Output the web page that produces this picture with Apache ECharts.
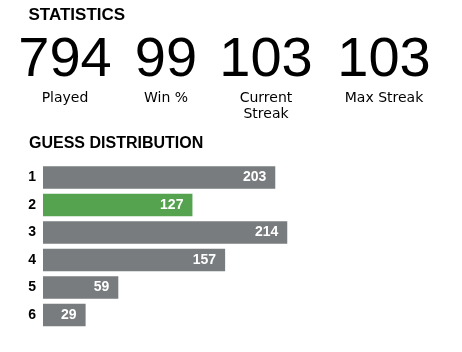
<!DOCTYPE html>
<html><head><meta charset="utf-8">
<script src="https://cdn.jsdelivr.net/npm/echarts@6/dist/echarts.min.js"></script>
<style>html,body{margin:0;padding:0;background:#fff}#c{width:462px;height:352px}</style>
</head><body><div id="c"></div>
<script>
const statValues = ['794', '99', '103', '103'];
const statLabels = ['Played', 'Win %', 'Current\nStreak', 'Max Streak'];
const guesses = ['1', '2', '3', '4', '5', '6'];
const counts = [203, 127, 214, 157, 59, 29];
const highlightIndex = 1;

const GRAY = '#787c7e', GREEN = '#55a34f', INK = '#000';
const FONT = '"Liberation Sans", Arial, sans-serif';
const LFONT = '"DejaVu Sans", sans-serif';
const statX = [65, 166, 266, 384];
const PAD = 11;

const graphics = [
  {type: 'text', x: 28.5, y: 15.5, style: {text: 'STATISTICS', font: 'bold 17px ' + FONT, fill: INK, verticalAlign: 'middle'}},
  {type: 'text', x: 29, y: 143.5, style: {text: 'GUESS DISTRIBUTION', font: 'bold 16px ' + FONT, fill: INK, verticalAlign: 'middle'}}
];
statValues.forEach((v, i) => {
  graphics.push({type: 'text', x: statX[i], y: 61, style: {text: v, font: '56px ' + FONT, fill: INK, align: 'center', verticalAlign: 'middle'}});
  graphics.push({type: 'text', x: statX[i], y: 90, style: {text: statLabels[i], font: '14px ' + LFONT, fill: INK, align: 'center', verticalAlign: 'top', lineHeight: 16}});
});

const chart = echarts.init(document.getElementById('c'), null, {renderer: 'canvas'});
chart.setOption({
  backgroundColor: '#fff',
  animation: false,
  graphic: graphics,
  grid: {left: 43, right: 92, top: 163.75, bottom: 23.25},
  xAxis: {type: 'value', min: 0, max: 300, show: false},
  yAxis: {
    type: 'category', data: guesses, inverse: true,
    axisLine: {show: false}, axisTick: {show: false}, splitLine: {show: false},
    axisLabel: {color: INK, fontWeight: 'bold', fontSize: 14, fontFamily: FONT, margin: 7}
  },
  series: [{
    type: 'custom',
    data: counts.map((v, i) => [v, i]),
    encode: {x: 0, y: 1},
    renderItem(params, api) {
      const v = api.value(0), c = api.value(1);
      const s = api.coord([0, c]), e = api.coord([v, c]);
      const h = api.size([0, 1])[1] * 0.82;
      const w = e[0] - s[0] + PAD;
      const fill = c === highlightIndex ? GREEN : GRAY;
      return {type: 'group', children: [
        {type: 'rect', shape: {x: s[0], y: s[1] - h / 2, width: w, height: h}, style: {fill}},
        {type: 'text', style: {text: String(v), x: s[0] + w - 9, y: s[1], align: 'right', verticalAlign: 'middle', fill: '#fff', font: 'bold 14px ' + FONT}}
      ]};
    }
  }]
});
</script></body></html>
